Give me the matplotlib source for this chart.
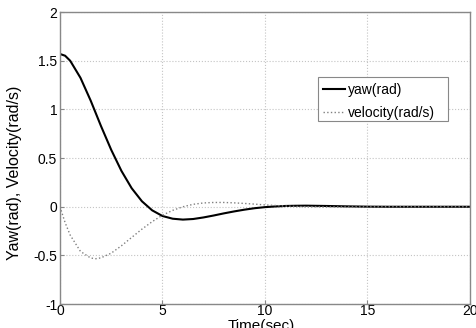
import matplotlib
matplotlib.use("Agg")
import matplotlib.pyplot as plt
from matplotlib.patches import Rectangle

t = [0, 0.25, 0.5, 1, 1.5, 1.75, 2, 2.5, 3, 3.5, 4, 4.5, 5, 5.5, 6, 6.5, 7, 7.5,
     8, 8.5, 9, 9.5, 10, 10.5, 11, 11.5, 12, 13, 14, 15, 16, 18, 20]
yaw = [1.57, 1.552, 1.50, 1.325, 1.090, 0.960, 0.830, 0.585, 0.368, 0.190, 0.056,
       -0.037, -0.095, -0.123, -0.132, -0.126, -0.110, -0.090, -0.068, -0.048,
       -0.030, -0.015, -0.004, 0.003, 0.008, 0.010, 0.011, 0.008, 0.004, 0.001,
       0.0, 0.0, 0.0]
velocity = [0.0, -0.163, -0.292, -0.459, -0.527, -0.534, -0.525, -0.477, -0.401,
            -0.315, -0.230, -0.153, -0.087, -0.037, 0.0, 0.025, 0.039, 0.044,
            0.044, 0.040, 0.034, 0.027, 0.019, 0.013, 0.007, 0.003, 0.0, -0.002,
            -0.002, -0.001, 0.0, 0.0, 0.0]
xticks = [0, 5, 10, 15, 20]
yticks = [-1, -0.5, 0, 0.5, 1, 1.5, 2]
ytick_labels = ["-1", "-0.5", "0", "0.5", "1", "1.5", "2"]
series_names = ["yaw(rad)", "velocity(rad/s)"]

plt.rcParams['font.family'] = ['Liberation Sans', 'DejaVu Sans']

fig = plt.figure(figsize=(4.76, 3.28), dpi=100)
ax = fig.add_axes([0.126, 0.073, 0.861, 0.890])

ax.plot(t, yaw, color='black', lw=1.5, label=series_names[0])
ax.plot(t, velocity, color='#808080', lw=1.0, ls=':', label=series_names[1])

ax.set_xlim(0, 20)
ax.set_ylim(-1, 2)
ax.set_xticks(xticks)
ax.set_xticklabels([str(v) for v in xticks])
ax.set_yticks(yticks)
ax.set_yticklabels(ytick_labels)
ax.grid(True, color='#c4c4c4', ls=':', lw=0.8)
for s in ax.spines.values():
    s.set_color('#888888')
    s.set_linewidth(1.0)
ax.tick_params(direction='in', length=3, color='#888888', labelsize=10)
ax.tick_params(axis='x', pad=0)
ax.tick_params(axis='y', pad=2)

ax.set_xlabel('Time(sec)', fontsize=11)
ax.xaxis.set_label_coords(0.49, -0.05)
ax.set_ylabel('Yaw(rad), Velocity(rad/s)', fontsize=11.5)
ax.yaxis.set_label_coords(-0.093, 0.45)

# legend box (MATLAB style, extra space on the right)
ax.add_patch(Rectangle((0.629, 0.627), 0.317, 0.150, transform=ax.transAxes,
                       facecolor='white', edgecolor='#888888', lw=0.8, zorder=4))
leg = ax.legend(loc='upper left', bbox_to_anchor=(0.634, 0.766), fontsize=10,
                frameon=False, handlelength=1.6, handletextpad=0.2,
                borderpad=0.2, labelspacing=0.62, borderaxespad=0)
leg.set_zorder(5)

fig.savefig('out.png', dpi=100)
